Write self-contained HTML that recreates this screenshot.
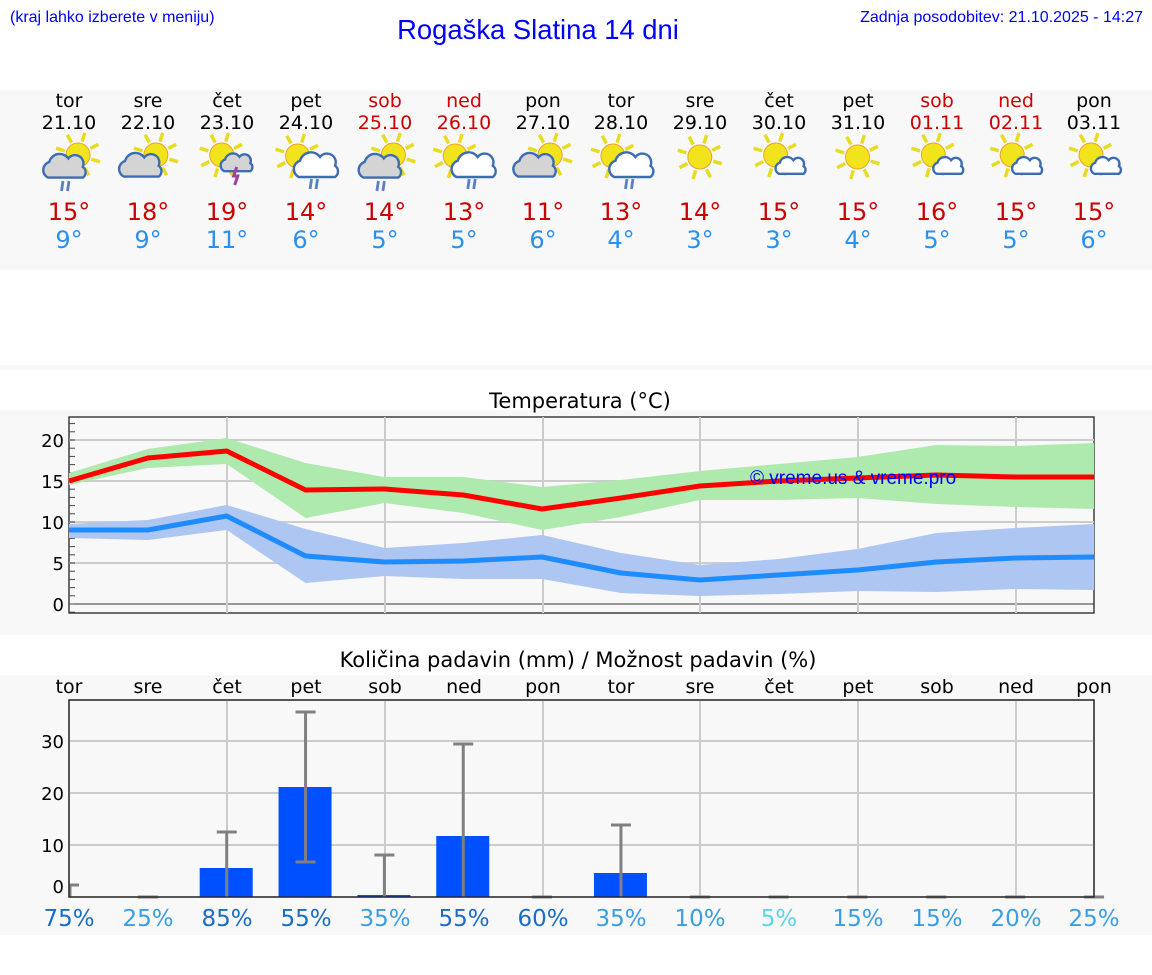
<!DOCTYPE html>
<html><head><meta charset="utf-8"><style>
html,body{margin:0;padding:0;background:#fff;width:1152px;height:975px;overflow:hidden}
svg{display:block;font-family:"DejaVu Sans","Liberation Sans",sans-serif}
</style></head><body>
<svg id="s" width="1152" height="975" xmlns="http://www.w3.org/2000/svg">
<rect x="0" y="90" width="1152" height="180" fill="#f8f8f8"/>
<rect x="0" y="365" width="1152" height="5" fill="#f8f8f8"/>
<rect x="0" y="410" width="1152" height="225" fill="#f8f8f8"/>
<rect x="0" y="675" width="1152" height="260" fill="#f8f8f8"/>
<text x="10" y="22" font-size="16" fill="#0000ff" font-family="Liberation Sans,sans-serif">(kraj lahko izberete v meniju)</text>
<text x="1143" y="22" font-size="16" fill="#0000ff" text-anchor="end" font-family="Liberation Sans,sans-serif">Zadnja posodobitev: 21.10.2025 - 14:27</text>
<text x="538" y="39" font-size="27.4" fill="#0000ff" text-anchor="middle" font-family="Liberation Sans,sans-serif">Rogaška Slatina 14 dni</text>
<g font-size="19" text-anchor="middle" fill="#000">
<text x="69" y="107">tor</text><text x="69" y="129">21.10</text>
<text x="148" y="107">sre</text><text x="148" y="129">22.10</text>
<text x="227" y="107">čet</text><text x="227" y="129">23.10</text>
<text x="306" y="107">pet</text><text x="306" y="129">24.10</text>
<text x="385" y="107" fill="#cc0000">sob</text><text x="385" y="129" fill="#cc0000">25.10</text>
<text x="464" y="107" fill="#cc0000">ned</text><text x="464" y="129" fill="#cc0000">26.10</text>
<text x="543" y="107">pon</text><text x="543" y="129">27.10</text>
<text x="621" y="107">tor</text><text x="621" y="129">28.10</text>
<text x="700" y="107">sre</text><text x="700" y="129">29.10</text>
<text x="779" y="107">čet</text><text x="779" y="129">30.10</text>
<text x="858" y="107">pet</text><text x="858" y="129">31.10</text>
<text x="937" y="107" fill="#cc0000">sob</text><text x="937" y="129" fill="#cc0000">01.11</text>
<text x="1016" y="107" fill="#cc0000">ned</text><text x="1016" y="129" fill="#cc0000">02.11</text>
<text x="1094" y="107">pon</text><text x="1094" y="129">03.11</text>
</g>
<g font-size="24" text-anchor="middle" fill="#cc0000">
<text x="69" y="220">15°</text><text x="148" y="220">18°</text><text x="227" y="220">19°</text><text x="306" y="220">14°</text><text x="385" y="220">14°</text><text x="464" y="220">13°</text><text x="543" y="220">11°</text><text x="621" y="220">13°</text><text x="700" y="220">14°</text><text x="779" y="220">15°</text><text x="858" y="220">15°</text><text x="937" y="220">16°</text><text x="1016" y="220">15°</text><text x="1094" y="220">15°</text>
</g>
<g font-size="24" text-anchor="middle" fill="#2a90ee">
<text x="69" y="248">9°</text><text x="148" y="248">9°</text><text x="227" y="248">11°</text><text x="306" y="248">6°</text><text x="385" y="248">5°</text><text x="464" y="248">5°</text><text x="543" y="248">6°</text><text x="621" y="248">4°</text><text x="700" y="248">3°</text><text x="779" y="248">3°</text><text x="858" y="248">4°</text><text x="937" y="248">5°</text><text x="1016" y="248">5°</text><text x="1094" y="248">6°</text>
</g>
<g id="icons"></g>

<text x="580" y="408" font-size="21" text-anchor="middle" fill="#000">Temperatura (°C)</text>
<rect x="69" y="417" width="1025" height="196" fill="#f8f8f8" stroke="#222" stroke-width="1.3"/>
<g id="tgrid" stroke="#ccc" stroke-width="2"></g>
<g id="tch"></g>
<text x="750" y="484" font-size="19" fill="#0000ff" font-family="Liberation Sans,sans-serif">© vreme.us &amp; vreme.pro</text>
<g font-size="18" text-anchor="end" fill="#000">
<text x="64" y="447">20</text><text x="64" y="488">15</text><text x="64" y="529">10</text><text x="64" y="570">5</text><text x="64" y="611">0</text>
</g>

<text x="578" y="667" font-size="21" text-anchor="middle" fill="#000">Količina padavin (mm) / Možnost padavin (%)</text>
<g font-size="19" text-anchor="middle" fill="#000">
<text x="69" y="693">tor</text><text x="148" y="693">sre</text><text x="227" y="693">čet</text><text x="306" y="693">pet</text><text x="385" y="693">sob</text><text x="464" y="693">ned</text><text x="543" y="693">pon</text><text x="621" y="693">tor</text><text x="700" y="693">sre</text><text x="779" y="693">čet</text><text x="858" y="693">pet</text><text x="937" y="693">sob</text><text x="1016" y="693">ned</text><text x="1094" y="693">pon</text>
</g>
<rect x="69" y="700" width="1025" height="197" fill="#f8f8f8" stroke="#222" stroke-width="1.3"/>
<g id="pch"></g>
<g font-size="18" text-anchor="end" fill="#000">
<text x="64" y="748">30</text><text x="64" y="800">20</text><text x="64" y="852">10</text><text x="64" y="893">0</text>
</g>
<g font-size="23" text-anchor="middle">
<text x="69" y="926" fill="#1a6cc4">75%</text><text x="148" y="926" fill="#3a9ee0">25%</text><text x="227" y="926" fill="#1a6cc4">85%</text><text x="306" y="926" fill="#1a6cc4">55%</text><text x="385" y="926" fill="#3a9ee0">35%</text><text x="464" y="926" fill="#1a6cc4">55%</text><text x="543" y="926" fill="#1a6cc4">60%</text><text x="621" y="926" fill="#3a9ee0">35%</text><text x="700" y="926" fill="#3a9ee0">10%</text><text x="779" y="926" fill="#5fd2ec">5%</text><text x="858" y="926" fill="#3a9ee0">15%</text><text x="937" y="926" fill="#3a9ee0">15%</text><text x="1016" y="926" fill="#3a9ee0">20%</text><text x="1094" y="926" fill="#3a9ee0">25%</text>
</g>
</svg>
<script>
var NS="http://www.w3.org/2000/svg";
function el(p,t,a){var e=document.createElementNS(NS,t);for(var k in a)e.setAttribute(k,a[k]);p.appendChild(e);return e;}
var X=[];for(var i=0;i<14;i++)X.push(69+i*78.85);
var tg=document.getElementById('tgrid');
[440,481,522,563].forEach(function(y){el(tg,'line',{x1:69,x2:1094,y1:y,y2:y});});
el(tg,'line',{x1:69,x2:1094,y1:604,y2:604,stroke:'#333','stroke-width':1});
[227,385,543,700,858,1016].forEach(function(x){el(tg,'line',{x1:x,x2:x,y1:417,y2:613});});
for(var t=-1;t<=22;t++){var y=604-8.2*t;el(tg,'line',{x1:69,x2:75,y1:y,y2:y,stroke:'#444','stroke-width':1});}
var tc=document.getElementById('tch');
function band(top,bot,col){var p=[];for(var i=0;i<14;i++)p.push(X[i]+','+top[i]);for(var i=13;i>=0;i--)p.push(X[i]+','+bot[i]);el(tc,'polygon',{points:p.join(' '),fill:col});}
function line(v,col){el(tc,'polyline',{points:v.map(function(y,i){return X[i]+','+y}).join(' '),fill:'none',stroke:col,'stroke-width':5,'stroke-linejoin':'round'});}
band([473,449,438,463,477,477,487,480,471,464,457,445,446,443],[485,468,464,518,503,513,530,517,500,500,498,504,507,509],'#aeeaae');
band([524,520,505,529,548,543,535,553,565,559,549,533,528,524],[538,540,530,583,576,579,579,593,596,594,591,592,589,590],'#adc6f2');
line([481,458,451,490,489,495,509,498,486,481,478,475,477,477],'#ff0000');
line([530,530,516,556,562,561,557,573,580,575,570,562,558,557],'#1e8cff');
var pc=document.getElementById('pch');
[741,793,845].forEach(function(y){el(pc,'line',{x1:69,x2:1094,y1:y,y2:y,stroke:'#ccc','stroke-width':2});});
[227,385,543,700,858,1016].forEach(function(x){el(pc,'line',{x1:x,x2:x,y1:700,y2:897,stroke:'#ccc','stroke-width':2});});
var bars=[[2,868],[3,787],[4,895],[5,836],[7,873]];
bars.forEach(function(b){el(pc,'rect',{x:X[b[0]]-27,y:b[1],width:53,height:897-b[1],fill:'#0050ff'});});
var eb=[[2,832,897],[3,712,862],[4,855,897],[5,744,897],[7,825,897]];
eb.forEach(function(e){var x=X[e[0]];el(pc,'line',{x1:x,x2:x,y1:e[1],y2:e[2],stroke:'#808080','stroke-width':3});el(pc,'line',{x1:x-10,x2:x+10,y1:e[1],y2:e[1],stroke:'#808080','stroke-width':3});if(e[2]<897)el(pc,'line',{x1:x-10,x2:x+10,y1:e[2],y2:e[2],stroke:'#808080','stroke-width':3});});
el(pc,'path',{d:'M70 897 V885 H79',fill:'none',stroke:'#808080','stroke-width':3});
[1,6,8,9,10,11,12,13].forEach(function(i){el(pc,'line',{x1:X[i]-10,x2:X[i]+10,y1:897,y2:897,stroke:'#808080','stroke-width':3});});
el(pc,'rect',{x:69,y:700,width:1025,height:197,fill:'none',stroke:'#222','stroke-width':1.3});
var ig=document.getElementById('icons');
function sun(cx,cy,r){var g=el(ig,'g',{});for(var k=0;k<8;k++){var a=k*Math.PI/4+0.3;el(g,'line',{x1:cx+Math.cos(a)*(r+2),y1:cy+Math.sin(a)*(r+2),x2:cx+Math.cos(a)*(r+11),y2:cy+Math.sin(a)*(r+11),stroke:'#e8dc20','stroke-width':3.5});}el(g,'circle',{cx:cx,cy:cy,r:r,fill:'#f2e41c',stroke:'#f0a030','stroke-width':1});}
function cl(cx,cy,s,fill){var g=el(ig,'g',{transform:'translate('+cx+','+cy+') scale('+s+')'});el(g,'path',{d:'M-15 8 a7 7 0 0 1 1 -13 a9 9 0 0 1 16 -3 a7 7 0 0 1 12 7 a5.5 5.5 0 0 1 0 9 z',fill:fill,stroke:'#3c6cb4','stroke-width':2.4/s});}
function rain(cx,cy){el(ig,'path',{d:'M'+(cx-3)+' '+cy+' l-1.5 10 M'+(cx+3)+' '+cy+' l-1.5 10',stroke:'#5a80c0','stroke-width':2.8});}
var types=[0,1,2,3,0,3,1,3,4,5,4,5,5,5];
for(var i=0;i<14;i++){var x=X[i],t=types[i];
 if(t==0){sun(x+9,155,12);cl(x-3,168,1.2,'#d4d4d4');rain(x-3,181);}
 else if(t==1){sun(x+8,155,12);cl(x-6,167,1.2,'#d4d4d4');}
 else if(t==2){sun(x-5,155,12);cl(x+11,164,0.9,'#d4d4d4');el(ig,'path',{d:'M'+(x+10)+' 167 l-3 9 h4 l-3 9',stroke:'#a040a0','stroke-width':3,fill:'none'});}
 else if(t==3){sun(x-8,156,12);cl(x+12,167,1.25,'#fff');rain(x+9,179);}
 else if(t==4){sun(x,157,12);}
 else {sun(x-3,155,12);cl(x+13,167,0.85,'#fff');}
}
</script>
</body></html>
